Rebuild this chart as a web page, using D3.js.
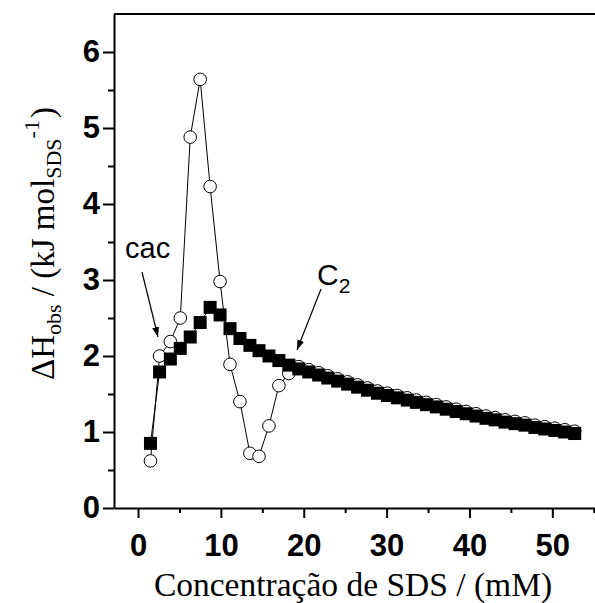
<!DOCTYPE html>
<html>
<head>
<meta charset="utf-8">
<script src="https://cdn.jsdelivr.net/npm/d3@7"></script>
<style>
  body { margin: 0; background: #fff; }
  svg { display: block; }
</style>
</head>
<body>
<svg width="595" height="603"></svg>
<script>
// SDS concentration (mM), shared by both series
const conc = [1.5, 2.6, 3.9, 5.1, 6.3, 7.5, 8.7, 9.9, 11.1, 12.3, 13.5,
  14.6, 15.8, 17.0, 18.2, 19.4, 20.6, 21.8, 22.9, 24.1, 25.3, 26.5, 27.7,
  28.9, 30.1, 31.3, 32.5, 33.6, 34.8, 36.0, 37.2, 38.4, 39.6, 40.8, 42.0,
  43.1, 44.3, 45.5, 46.7, 47.9, 49.1, 50.3, 51.5, 52.7];

// filled squares
const dHfilled = [0.85, 1.79, 1.96, 2.10, 2.25, 2.44, 2.64, 2.54, 2.36, 2.23, 2.14,
  2.07, 2.00, 1.94, 1.88, 1.83, 1.79, 1.75, 1.71, 1.67, 1.63, 1.59, 1.55,
  1.51, 1.48, 1.45, 1.42, 1.39, 1.36, 1.33, 1.30, 1.27, 1.24, 1.21, 1.18,
  1.16, 1.13, 1.11, 1.09, 1.06, 1.04, 1.02, 1.00, 0.98];

// open circles
const dHopen = [0.62, 2.00, 2.19, 2.50, 4.88, 5.64, 4.23, 2.98, 1.89, 1.40, 0.72,
  0.68, 1.08, 1.61, 1.77, 1.86, 1.82, 1.78, 1.74, 1.70, 1.66, 1.62, 1.58,
  1.54, 1.51, 1.48, 1.45, 1.42, 1.39, 1.36, 1.33, 1.30, 1.27, 1.24, 1.21,
  1.19, 1.16, 1.14, 1.12, 1.09, 1.07, 1.05, 1.03, 1.01];

const xTicks = [0, 10, 20, 30, 40, 50];
const xMinor = [5, 15, 25, 35, 45, 55];
const yTicks = [0, 1, 2, 3, 4, 5, 6];
const yMinor = [0.5, 1.5, 2.5, 3.5, 4.5, 5.5];

const svg = d3.select("svg");

const x = d3.scaleLinear().domain([-2.9, 55.5]).range([114, 597.9]);
const y = d3.scaleLinear().domain([0, 6.5]).range([508, 14]);

const sans = "'Liberation Sans', Arial, sans-serif";
const serif = "'Liberation Serif', 'Times New Roman', serif";

// arrow head
svg.append("defs").append("marker")
  .attr("id", "arrow")
  .attr("viewBox", "0 0 10 10")
  .attr("refX", 10).attr("refY", 5)
  .attr("markerWidth", 10).attr("markerHeight", 10)
  .attr("markerUnits", "userSpaceOnUse")
  .attr("orient", "auto")
  .append("path")
  .attr("d", "M0,1.5 L10,5 L0,8.5 Z")
  .attr("fill", "#000");

// minor ticks
svg.append("g")
  .attr("transform", `translate(${x.range()[0]},0)`)
  .call(d3.axisLeft(y).tickValues(yMinor).tickSize(6).tickFormat(""))
  .call(g => g.select(".domain").remove())
  .selectAll("line").attr("stroke-width", 2);

svg.append("g")
  .attr("transform", `translate(0,${y(0)})`)
  .call(d3.axisBottom(x).tickValues(xMinor).tickSize(5).tickFormat(""))
  .call(g => g.select(".domain").remove())
  .selectAll("line").attr("stroke-width", 2);

// major axes
const yAxis = svg.append("g")
  .attr("transform", `translate(${x.range()[0]},0)`)
  .call(d3.axisLeft(y).tickValues(yTicks).tickSize(11).tickSizeOuter(0)
    .tickPadding(3).tickFormat(d3.format("d")));
yAxis.select(".domain").attr("stroke-width", 2);
yAxis.selectAll("line").attr("stroke-width", 2);
yAxis.selectAll("text")
  .style("font-family", sans).style("font-weight", "bold").style("font-size", "31px")
  .attr("fill", "#000");

const xAxis = svg.append("g")
  .attr("transform", `translate(0,${y(0)})`)
  .call(d3.axisBottom(x).tickValues(xTicks).tickSize(10).tickSizeOuter(0)
    .tickPadding(16).tickFormat(d3.format("d")));
xAxis.select(".domain").attr("stroke-width", 2);
xAxis.selectAll("line").attr("stroke-width", 2);
xAxis.selectAll("text")
  .style("font-family", sans).style("font-weight", "bold").style("font-size", "31px")
  .attr("fill", "#000");

// top frame line
svg.append("line")
  .attr("x1", x.range()[0]).attr("x2", x.range()[1])
  .attr("y1", y.range()[1]).attr("y2", y.range()[1])
  .attr("stroke", "#000").attr("stroke-width", 2);

const openData = conc.map((c, i) => ({ c, v: dHopen[i] }));
const filledData = conc.map((c, i) => ({ c, v: dHfilled[i] }));

const line = d3.line().x(d => x(d.c)).y(d => y(d.v));

// open circle series
svg.append("path")
  .datum(openData)
  .attr("fill", "none")
  .attr("stroke", "#000")
  .attr("stroke-width", 1)
  .attr("d", line);

svg.selectAll(".open")
  .data(openData)
  .enter()
  .append("circle")
  .attr("class", "open")
  .attr("cx", d => x(d.c))
  .attr("cy", d => y(d.v))
  .attr("r", 6.3)
  .attr("fill", "#fff")
  .attr("stroke", "#000")
  .attr("stroke-width", 1);

// filled square series
svg.append("path")
  .datum(filledData)
  .attr("fill", "none")
  .attr("stroke", "#000")
  .attr("stroke-width", 1)
  .attr("d", line);

const sq = 13;
svg.selectAll(".filled")
  .data(filledData)
  .enter()
  .append("rect")
  .attr("class", "filled")
  .attr("x", d => x(d.c) - sq / 2)
  .attr("y", d => y(d.v) - sq / 2)
  .attr("width", sq)
  .attr("height", sq)
  .attr("fill", "#000");

// annotations
svg.append("text")
  .attr("x", 125).attr("y", 258)
  .style("font-family", sans).style("font-size", "29px")
  .text("cac");
svg.append("line")
  .attr("x1", 142).attr("y1", 272).attr("x2", 158).attr("y2", 337)
  .attr("stroke", "#000").attr("stroke-width", 1.2)
  .attr("marker-end", "url(#arrow)");

const c2 = svg.append("text")
  .attr("x", 317).attr("y", 285)
  .style("font-family", sans).style("font-size", "30px");
c2.append("tspan").text("C");
c2.append("tspan").attr("dy", 8).style("font-size", "21px").text("2");
svg.append("line")
  .attr("x1", 321).attr("y1", 289).attr("x2", 297).attr("y2", 350)
  .attr("stroke", "#000").attr("stroke-width", 1.2)
  .attr("marker-end", "url(#arrow)");

// axis titles
svg.append("text")
  .attr("x", 353).attr("y", 596)
  .attr("text-anchor", "middle")
  .style("font-family", serif).style("font-size", "33.5px")
  .text("Concentração de SDS / (mM)");

const yt = svg.append("text")
  .attr("transform", "translate(54,380) rotate(-90)")
  .style("font-family", serif).style("font-size", "33px");
yt.append("tspan").text("ΔH");
yt.append("tspan").attr("dy", 7).style("font-size", "22px").text("obs");
yt.append("tspan").attr("dy", -7).text(" / (kJ mol");
yt.append("tspan").attr("dy", 7).style("font-size", "22px").text("SDS");
yt.append("tspan").attr("dy", -22).style("font-size", "22px").text("-1");
yt.append("tspan").attr("dy", 15).attr("dx", 2).text(")");
</script>
</body>
</html>
